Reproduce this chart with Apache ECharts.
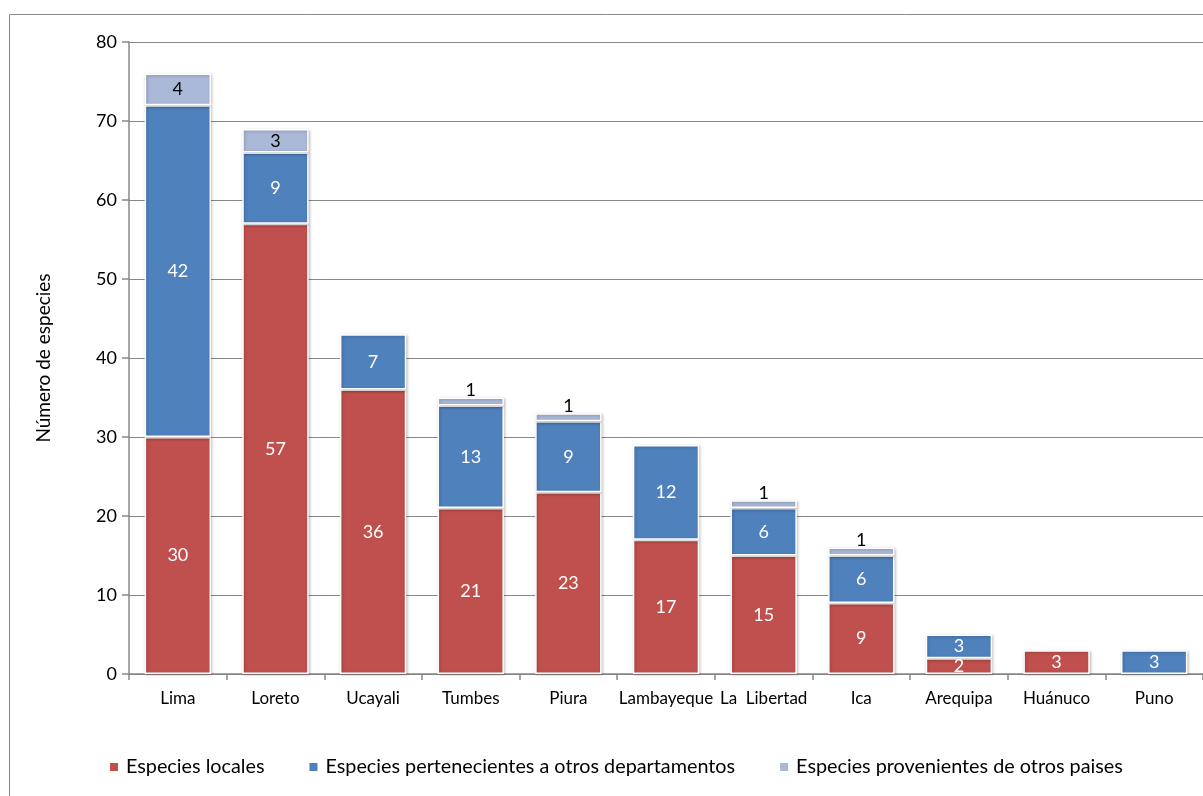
<!DOCTYPE html>
<html>
<head>
<meta charset="utf-8">
<script src="https://cdn.jsdelivr.net/npm/echarts@6/dist/echarts.min.js"></script>
<style>
  html, body { margin: 0; padding: 0; background: #fff; }
  #chart { width: 1203px; height: 796px; }
</style>
</head>
<body>
<div id="chart"></div>
<script>
// Departamentos
const departamentos = ['Lima', 'Loreto', 'Ucayali', 'Tumbes', 'Piura', 'Lambayeque',
  'La  Libertad', 'Ica', 'Arequipa', 'Huánuco', 'Puno'];

// Número de especies por origen (null = sin especies)
const especiesLocales = [30, 57, 36, 21, 23, 17, 15, 9, 2, 3, null];
const especiesOtrosDepartamentos = [42, 9, 7, 13, 9, 12, 6, 6, 3, null, 3];
const especiesOtrosPaises = [4, 3, null, 1, 1, null, 1, 1, null, null, null];

// Eje Y
const yMin = 0, yMax = 80, yStep = 10;

const FONT = 'Lato, "Noto Sans", sans-serif';
const AXIS_GRAY = '#878787';

const colores = {
  locales: '#C0504D',
  departamentos: '#4F81BD',
  paises: '#AAB9D8'
};

const barStyle = (color) => ({
  color: color,
  borderColor: '#ffffff',
  borderWidth: 1.5,
  shadowColor: 'rgba(0,0,0,0.25)',
  shadowBlur: 3,
  shadowOffsetX: 1,
  shadowOffsetY: 1
});

// small segments get their label placed just above the bar
const conEtiquetas = (valores, colorTexto) => valores.map(v => {
  if (v === null) return null;
  if (v <= 1) {
    return { value: v, label: { position: 'top', distance: -2, color: '#000' } };
  }
  return { value: v, label: { color: colorTexto } };
});

const etiqueta = (color) => ({
  show: true,
  position: 'inside',
  color: color,
  fontFamily: FONT,
  fontSize: 18
});

const chart = echarts.init(document.getElementById('chart'), null, { renderer: 'canvas' });

chart.setOption({
  animation: false,
  backgroundColor: '#ffffff',
  graphic: [{
    type: 'rect',
    left: 7, top: 12,
    shape: { width: 1300, height: 900 },
    style: { fill: 'none', stroke: '#8a8a8a', lineWidth: 1 },
    silent: true
  }],
  grid: { left: 129, top: 42, right: 0, bottom: 122, containLabel: false },
  legend: {
    left: 108,
    top: 757,
    padding: 0,
    itemWidth: 10,
    itemHeight: 10,
    itemGap: 43,
    icon: 'rect',
    textStyle: { fontFamily: FONT, fontSize: 19.8, color: '#000', padding: [0, 0, 0, 2] },
    data: ['Especies locales', 'Especies pertenecientes a otros departamentos',
      'Especies provenientes de otros paises']
  },
  xAxis: {
    type: 'category',
    data: departamentos,
    axisLine: { lineStyle: { color: AXIS_GRAY, width: 1.5 } },
    axisTick: { show: true, interval: 0, alignWithLabel: false, length: 6, lineStyle: { color: AXIS_GRAY, width: 1.5 } },
    axisLabel: { interval: 0, fontFamily: FONT, fontSize: 17, color: '#000', margin: 16 }
  },
  yAxis: {
    type: 'value',
    min: yMin, max: yMax, interval: yStep,
    name: 'Número de especies',
    nameLocation: 'middle',
    nameRotate: 90,
    nameGap: 76,
    nameTextStyle: { fontFamily: FONT, fontSize: 19, color: '#000' },
    axisLine: { show: true, lineStyle: { color: AXIS_GRAY, width: 1.5 } },
    axisTick: { show: true, length: 7, lineStyle: { color: AXIS_GRAY, width: 1.5 } },
    axisLabel: { fontFamily: FONT, fontSize: 18, color: '#000', margin: 12 },
    splitLine: { show: true, lineStyle: { color: AXIS_GRAY, width: 1.2 } }
  },
  series: [
    {
      name: 'Especies locales',
      type: 'bar',
      stack: 'total',
      barCategoryGap: '32%',
      itemStyle: barStyle(colores.locales),
      label: etiqueta('#fff'),
      data: conEtiquetas(especiesLocales, '#fff')
    },
    {
      name: 'Especies pertenecientes a otros departamentos',
      type: 'bar',
      stack: 'total',
      barCategoryGap: '32%',
      itemStyle: barStyle(colores.departamentos),
      label: etiqueta('#fff'),
      data: conEtiquetas(especiesOtrosDepartamentos, '#fff')
    },
    {
      name: 'Especies provenientes de otros paises',
      type: 'bar',
      stack: 'total',
      barCategoryGap: '32%',
      itemStyle: barStyle(colores.paises),
      label: etiqueta('#000'),
      data: conEtiquetas(especiesOtrosPaises, '#000')
    }
  ]
});
</script>
</body>
</html>
